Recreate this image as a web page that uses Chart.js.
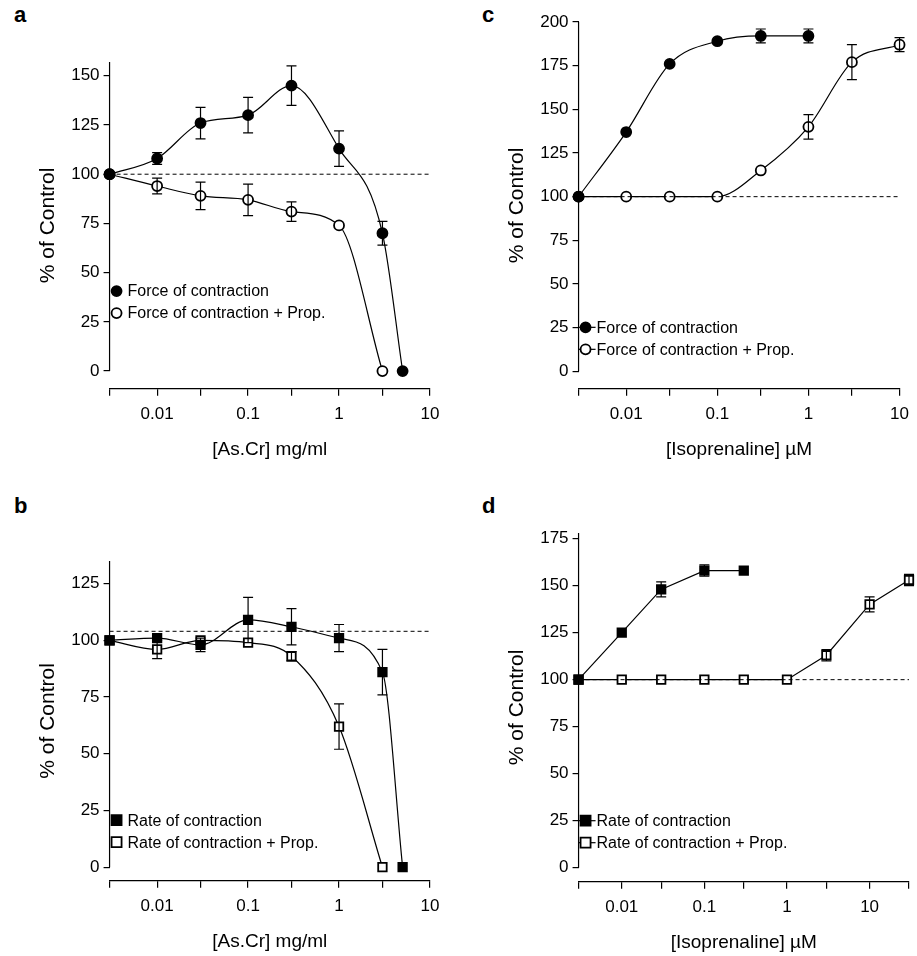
<!DOCTYPE html>
<html><head><meta charset="utf-8">
<script src="https://cdn.jsdelivr.net/npm/chart.js@4/dist/chart.umd.min.js"></script>
<style>
body{margin:0;background:#fff;width:917px;height:956px;position:relative;overflow:hidden;font-family:"Liberation Sans",Arial,sans-serif}
.p{position:absolute}
.lt{position:absolute;font:bold 22px "Liberation Sans",Arial,sans-serif}
</style></head><body>
<div class="lt" style="left:14px;top:2px">a</div>
<div class="lt" style="left:482px;top:2px">c</div>
<div class="lt" style="left:14px;top:493px">b</div>
<div class="lt" style="left:482px;top:493px">d</div>
<div class="p" style="left:0;top:0;width:458px;height:470px"><canvas id="ca"></canvas></div>
<div class="p" style="left:458px;top:0;width:459px;height:470px"><canvas id="cc"></canvas></div>
<div class="p" style="left:0;top:480px;width:458px;height:476px"><canvas id="cb"></canvas></div>
<div class="p" style="left:458px;top:480px;width:459px;height:476px"><canvas id="cd"></canvas></div>
<script>
// panel a
const aX1 = [0.003, 0.01, 0.03, 0.1, 0.3, 1, 3, 5];
const aY1 = [100, 108, 126, 130, 145, 113, 70, 0];
const aE1 = [0, 3, 8, 9, 10, 9, 6, 0];
const aX2 = [0.003, 0.01, 0.03, 0.1, 0.3, 1, 3];
const aY2 = [100, 94, 89, 87, 81, 74, 0];
const aE2 = [0, 4, 7, 8, 5, 0, 0];
// panel b
const bX1 = [0.003, 0.01, 0.03, 0.1, 0.3, 1, 3, 5];
const bY1 = [100, 101, 98, 109, 106, 101, 86, 0];
const bE1 = [0, 0, 3, 10, 8, 6, 10, 0];
const bX2 = [0.003, 0.01, 0.03, 0.1, 0.3, 1, 3];
const bY2 = [100, 96, 100, 99, 93, 62, 0];
const bE2 = [0, 4, 0, 0, 2, 10, 0];
// panel c
const cX1 = [0.003, 0.01, 0.03, 0.1, 0.3, 1];
const cY1 = [100, 137, 176, 189, 192, 192];
const cE1 = [0, 0, 0, 0, 4, 4];
const cX2 = [0.003, 0.01, 0.03, 0.1, 0.3, 1, 3, 10];
const cY2 = [100, 100, 100, 100, 115, 140, 177, 187];
const cE2 = [0, 0, 0, 0, 0, 7, 10, 4];
// panel d
const dX1 = [0.003, 0.01, 0.03, 0.1, 0.3];
const dY1 = [100, 125, 148, 158, 158];
const dE1 = [0, 0, 4, 3, 0];
const dX2 = [0.003, 0.01, 0.03, 0.1, 0.3, 1, 3, 10, 30];
const dY2 = [100, 100, 100, 100, 100, 100, 113, 140, 153];
const dE2 = [0, 0, 0, 0, 0, 0, 3, 4, 3];

const FONT = '"Liberation Sans",Arial,sans-serif';
const pts = (xs, ys) => xs.map((x, i) => ({x: x, y: ys[i]}));

const errPlugin = {
    id: 'errs',
    afterDatasetsDraw(chart) {
        const ctx = chart.ctx, xs = chart.scales.x, ys = chart.scales.y;
        ctx.save();
        ctx.strokeStyle = '#000';
        ctx.lineWidth = 1.2;
        chart.data.datasets.forEach(ds => {
            if (!ds.errs) return;
            ds.data.forEach((p, i) => {
                const e = ds.errs[i];
                if (!e) return;
                const px = xs.getPixelForValue(p.x);
                const y1 = ys.getPixelForValue(p.y + e), y2 = ys.getPixelForValue(p.y - e);
                ctx.beginPath();
                ctx.moveTo(px, y1); ctx.lineTo(px, y2);
                ctx.moveTo(px - 5, y1); ctx.lineTo(px + 5, y1);
                ctx.moveTo(px - 5, y2); ctx.lineTo(px + 5, y2);
                ctx.stroke();
            });
        });
        // y axis line from 0 to top
        const x0 = chart.chartArea.left;
        ctx.beginPath();
        ctx.moveTo(x0, ys.getPixelForValue(0));
        ctx.lineTo(x0, chart.chartArea.top);
        ctx.stroke();
        // legend
        const lg = chart.options.plugins.boxLegend;
        if (lg) {
            ctx.font = '16px ' + FONT;
            ctx.textBaseline = 'middle';
            lg.items.forEach((it, i) => {
                const lx = chart.chartArea.left + lg.dx;
                const ly = ys.getPixelForValue(0) - lg.dy + i * 22;
                if (lg.line) {
                    ctx.beginPath(); ctx.moveTo(lx - 6, ly); ctx.lineTo(lx + 11, ly); ctx.stroke();
                }
                ctx.beginPath();
                if (it.shape === 'circle') ctx.arc(lx + 1, ly, 5, 0, Math.PI * 2);
                else ctx.rect(lx - 4, ly - 5, 10, 10);
                ctx.fillStyle = it.filled ? '#000' : '#fff';
                ctx.fill(); ctx.lineWidth = 1.8; ctx.stroke(); ctx.lineWidth = 1.2;
                ctx.fillStyle = '#000';
                ctx.fillText(it.label, lx + 12, ly + 1);
            });
        }
        ctx.restore();
    }
};

function series(xs, ys, es, shape, filled, tension) {
    return {
        data: pts(xs, ys), errs: es, borderColor: '#000', borderWidth: 1.2, clip: false,
        pointStyle: shape, pointRadius: shape === 'rect' ? 6 : 5,
        pointBackgroundColor: filled ? '#000' : '#fff', pointBorderColor: '#000', pointBorderWidth: 1.8,
        tension: tension, cubicInterpolationMode: tension ? 'monotone' : 'default', showLine: true
    };
}
function dashed(x0, x1, v) {
    return {data: [{x: x0, y: v}, {x: x1, y: v}], borderColor: '#000', borderWidth: 1, borderDash: [4, 3], pointRadius: 0, showLine: true};
}

function makeChart(id, o) {
    new Chart(document.getElementById(id), {
        type: 'scatter',
        data: {datasets: o.datasets},
        options: {
            animation: false, responsive: true, maintainAspectRatio: false,
            layout: {padding: o.pad},
            plugins: {legend: {display: false}, tooltip: {enabled: false}, boxLegend: o.legend},
            scales: {
                x: {
                    type: 'logarithmic', min: 0.003, max: o.xmax,
                    afterBuildTicks: s => { s.ticks = o.xticks.map(v => ({value: v})); },
                    ticks: {color: '#000', font: {family: FONT, size: 17}, maxRotation: 0, padding: 8,
                        callback: v => ({0.01: '0.01', 0.1: '0.1', 1: '1', 10: '10'})[v] || ''},
                    grid: {drawOnChartArea: false, drawTicks: true, tickLength: 7, color: '#000', lineWidth: 1.2},
                    border: {display: true, color: '#000', width: 1.2},
                    title: {display: true, text: o.xtitle, color: '#000', font: {family: FONT, size: 19}, padding: {top: 6, bottom: 0}}
                },
                y: {
                    min: o.ymin, max: o.ymax,
                    afterBuildTicks: s => { const t = []; for (let v = 0; v <= o.ymax; v += 25) t.push({value: v}); s.ticks = t; },
                    ticks: {color: '#000', font: {family: FONT, size: 17}, padding: 4},
                    grid: {drawOnChartArea: false, drawTicks: true, tickLength: 6, color: '#000', lineWidth: 1.2},
                    border: {display: false},
                    title: {display: true, text: '% of Control', color: '#000', font: {family: FONT, size: 21}, padding: {bottom: 6}}
                }
            }
        },
        plugins: [errPlugin]
    });
}

const dec1 = [0.003, 0.01, 0.03, 0.1, 0.3, 1, 3, 10];
const dec2 = [0.003, 0.01, 0.03, 0.1, 0.3, 1, 3, 10, 30];

makeChart('ca', {
    xmax: 10, ymin: -9, ymax: 157, xticks: dec1, xtitle: '[As.Cr] mg/ml', pad: {top: 62, right: 28, left: 32, bottom: 9},
    legend: {dx: 6, dy: 80, line: false, items: [{label: 'Force of contraction', shape: 'circle', filled: true}, {label: 'Force of contraction + Prop.', shape: 'circle', filled: false}]},
    datasets: [dashed(0.003, 10, 100), series(aX1, aY1, aE1, 'circle', true, 0.4), series(aX2, aY2, aE2, 'circle', false, 0.4)]
});
makeChart('cb', {
    xmax: 10, ymin: -6, ymax: 135, xticks: dec1, xtitle: '[As.Cr] mg/ml', pad: {top: 81, right: 28, left: 32, bottom: 3},
    legend: {dx: 6, dy: 47, line: false, items: [{label: 'Rate of contraction', shape: 'rect', filled: true}, {label: 'Rate of contraction + Prop.', shape: 'rect', filled: false}]},
    datasets: [dashed(0.003, 10, 104), series(bX1, bY1, bE1, 'rect', true, 0.4), series(bX2, bY2, bE2, 'rect', false, 0.4)]
});
makeChart('cc', {
    xmax: 10, ymin: -10, ymax: 200, xticks: dec1, xtitle: '[Isoprenaline] \u00b5M', pad: {top: 22, right: 2, left: 43, bottom: 9},
    legend: {dx: 6, dy: 44, line: true, items: [{label: 'Force of contraction', shape: 'circle', filled: true}, {label: 'Force of contraction + Prop.', shape: 'circle', filled: false}]},
    datasets: [dashed(0.003, 10, 100), series(cX1, cY1, cE1, 'circle', true, 0.3), series(cX2, cY2, cE2, 'circle', false, 0.3)]
});
makeChart('cd', {
    xmax: 30, ymin: -7.5, ymax: 178, xticks: dec2, xtitle: '[Isoprenaline] \u00b5M', pad: {top: 53, right: 8, left: 43, bottom: 2},
    legend: {dx: 6, dy: 47, line: true, items: [{label: 'Rate of contraction', shape: 'rect', filled: true}, {label: 'Rate of contraction + Prop.', shape: 'rect', filled: false}]},
    datasets: [dashed(0.003, 30, 100), series(dX1, dY1, dE1, 'rect', true, 0), series(dX2, dY2, dE2, 'rect', false, 0)]
});
</script>
</body></html>
